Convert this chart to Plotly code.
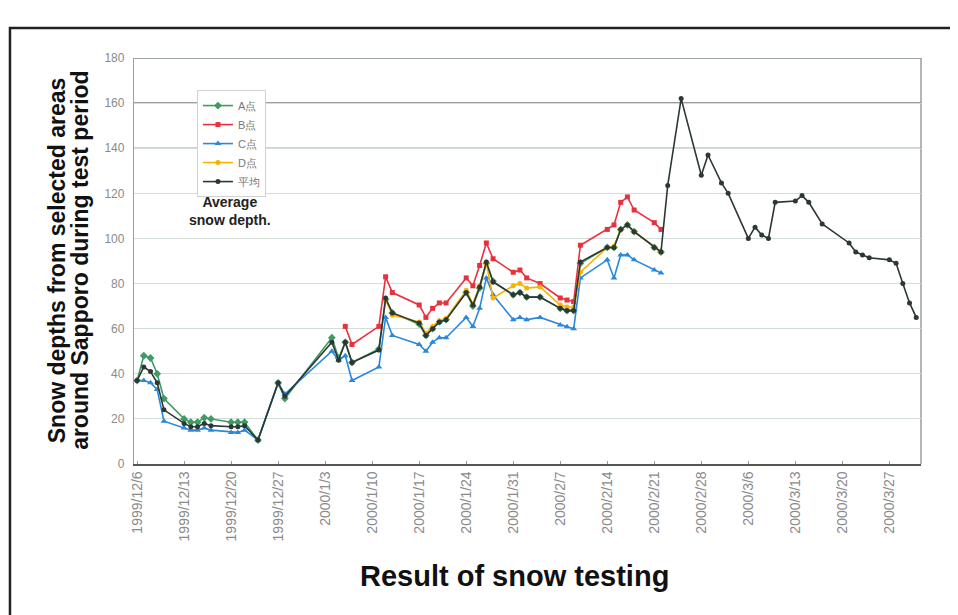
import plotly.graph_objects as go

# ---- data ----
dates_main = ["1999-12-06","1999-12-07","1999-12-08","1999-12-09","1999-12-10","1999-12-13",
              "1999-12-14","1999-12-15","1999-12-16","1999-12-17","1999-12-20","1999-12-21",
              "1999-12-22","1999-12-24","1999-12-27","1999-12-28","2000-01-04","2000-01-05",
              "2000-01-06","2000-01-07","2000-01-11","2000-01-12","2000-01-13","2000-01-17",
              "2000-01-18","2000-01-19","2000-01-20","2000-01-21","2000-01-24","2000-01-25",
              "2000-01-26","2000-01-27","2000-01-28","2000-01-31","2000-02-01","2000-02-02",
              "2000-02-04","2000-02-07","2000-02-08","2000-02-09","2000-02-10","2000-02-14",
              "2000-02-15","2000-02-16","2000-02-17","2000-02-18","2000-02-21","2000-02-22"]

point_a = [37, 48, 47, 40, 29, 20, 18.5, 18.5, 20.5, 20, 18.5, 18.5,
           18.5, 10.6, 36, 29, 56, 47, 54, 45, 51, 73, 67, 62,
           57, 60, 63, 64, 76, 70, 78, 89, 81, 75, 76, 74,
           74, 69, 68, 68, 89, 96, 96, 104, 106, 103, 96, 94]

point_b = [None, None, None, None, None, None, None, None, None, None, None, None,
           None, None, None, None, None, None, 61, 53, 61, 83, 76, 70.5,
           65, 69, 71.4, 71.4, 82.5, 79, 88, 98, 91, 85, 86, 82.5,
           80, 73.6, 72.7, 72, 97, 104, 106, 116, 118.4, 112.6, 107, 104]

point_c = [37, 37, 36, 33, 19, 16, 15, 15, 16, 15, 14, 14,
           15, 10.6, 36, 31, 50, 46, 48, 37, 43, 65, 57, 53,
           50, 54, 56, 56, 65, 61, 69, 82.5, 75, 64, 65, 64,
           65, 61.6, 60.8, 60, 82.5, 90.5, 82.5, 92.7, 92.7, 90.5, 86, 84.7]

point_d = [None, None, None, None, None, None, None, None, None, None, None, None,
           None, None, None, None, None, None, None, None, None, 73, 66, 63,
           58, 61, 63.5, 64.5, 77, 71, 79, 89, 73.6, 79, 80, 78,
           78.5, 70.5, 69.6, 69.5, 85, 96, 96.5, 104, 106, 103, 96, 94]

dates_late = ["2000-02-23","2000-02-25","2000-02-28","2000-02-29","2000-03-02","2000-03-03",
              "2000-03-06","2000-03-07","2000-03-08","2000-03-09","2000-03-10","2000-03-13",
              "2000-03-14","2000-03-15","2000-03-17","2000-03-21","2000-03-22","2000-03-23",
              "2000-03-24","2000-03-27","2000-03-28","2000-03-29","2000-03-30","2000-03-31"]

avg_main = [37, 43, 41, 36, 24, 18, 16.5, 16.5, 18, 17, 16.5, 16.5,
            17, 10.6, 36, 30, 54, 46, 54, 45, 50.5, 73.6, 67, 62.5,
            57, 60, 63, 64, 76, 70.5, 78.5, 89.6, 80.7, 75, 76, 74,
            74, 69, 68, 68, 89.6, 96, 96, 104, 106, 103, 96, 94]
avg_late = [123.5, 162, 128, 137, 124.6, 120, 100, 105, 101.5, 100, 116, 116.6,
            119, 116, 106.4, 98, 94, 92.7, 91.4, 90.5, 89, 80, 71.4, 65]

tick_dates = ["1999-12-06","1999-12-13","1999-12-20","1999-12-27","2000-01-03","2000-01-10",
              "2000-01-17","2000-01-24","2000-01-31","2000-02-07","2000-02-14","2000-02-21",
              "2000-02-28","2000-03-06","2000-03-13","2000-03-20","2000-03-27"]
tick_text = ["1999/12/6","1999/12/13","1999/12/20","1999/12/27","2000/1/3","2000/1/10",
             "2000/1/17","2000/1/24","2000/1/31","2000/2/7","2000/2/14","2000/2/21",
             "2000/2/28","2000/3/6","2000/3/13","2000/3/20","2000/3/27"]

series_names = ["A点", "B点", "C点", "D点", "平均"]

# ---- figure ----
fig = go.Figure()
styles = [
    ("#3f9a66", "diamond", 6),
    ("#e8313c", "square", 5),
    ("#2a88dc", "triangle-up", 6),
    ("#f6b400", "circle", 5),
]
for name, vals, (col, sym, sz) in zip(series_names[:4], [point_a, point_b, point_c, point_d], styles):
    fig.add_trace(go.Scatter(x=dates_main, y=vals, name=name, mode="lines+markers",
                             line=dict(color=col, width=1.6),
                             marker=dict(color=col, symbol=sym, size=sz)))

fig.add_trace(go.Scatter(x=dates_main + dates_late, y=avg_main + avg_late, name=series_names[4],
                         mode="lines+markers",
                         line=dict(color="#2d3833", width=1.6),
                         marker=dict(color="#2d3833", symbol="circle", size=5)))

shapes = [
    # outer frame
    dict(type="rect", xref="paper", yref="paper", x0=-0.1576, x1=1.2, y0=-0.6, y1=1.0739,
         line=dict(color="#222", width=2.5), fillcolor="rgba(0,0,0,0)", layer="below"),
    dict(type="line", xref="paper", yref="y", x0=0, x1=1, y0=160, y1=160,
         line=dict(color="#7a7f7c", width=1.6), layer="below"),
    dict(type="line", xref="paper", yref="y", x0=0, x1=1, y0=140, y1=140,
         line=dict(color="#9aa6a8", width=1.3), layer="below"),
    dict(type="line", xref="paper", yref="y", x0=0, x1=1, y0=180, y1=180,
         line=dict(color="#7e8c84", width=1.3), layer="below"),
    dict(type="line", xref="paper", yref="paper", x0=1, x1=1, y0=0, y1=1,
         line=dict(color="#8a8f8c", width=1.3), layer="below"),
]

annotations = [
    dict(text="<b>Snow depths from selected areas</b>", xref="paper", yref="paper",
         x=-0.0985, y=0.503, xanchor="center", yanchor="middle", textangle=-90, showarrow=False,
         font=dict(family="Liberation Sans, Arial", size=23, color="#111")),
    dict(text="<b>around Sapporo during test period</b>", xref="paper", yref="paper",
         x=-0.0685, y=0.503, xanchor="center", yanchor="middle", textangle=-90, showarrow=False,
         font=dict(family="Liberation Sans, Arial", size=23, color="#111")),
    dict(text="<b>Result of snow testing</b>", xref="paper", yref="paper",
         x=0.484, y=-0.276, xanchor="center", yanchor="middle", showarrow=False,
         font=dict(family="Liberation Sans, Arial", size=29, color="#111")),
    dict(text="<b>Average<br>snow depth.</b>", xref="paper", yref="paper",
         x=0.122, y=0.623, xanchor="center", yanchor="middle", showarrow=False, align="center",
         font=dict(family="Liberation Sans, Arial", size=14, color="#222")),
]

# page body adds an 8px offset, so margins are reduced on the left/top to compensate
fig.update_layout(
    width=958, height=615,
    margin=dict(l=126, r=45, t=50, b=159),
    paper_bgcolor="white", plot_bgcolor="white",
    shapes=shapes, annotations=annotations,
    font=dict(family="Liberation Sans, Arial", color="#777"),
    legend=dict(x=0.08, y=0.921, xanchor="left", yanchor="top",
                bgcolor="white", bordercolor="#cfd4d2", borderwidth=1,
                font=dict(size=11, color="#777"), tracegroupgap=0,
                itemwidth=30),
    xaxis=dict(type="date", range=["1999-12-05 13:00", "2000-03-31 17:00"],
               tickvals=tick_dates, ticktext=tick_text, tickangle=-90,
               tickfont=dict(size=14, color="#8a8a8a"),
               showgrid=False, showline=True, linecolor="#555", linewidth=1.5,
               ticks="inside", ticklen=3, tickcolor="#999", zeroline=False),
    yaxis=dict(range=[0, 180], dtick=20, tickfont=dict(size=12, color="#8a8a8a"),
               showgrid=True, gridcolor="#d3ded9", gridwidth=1,
               showline=True, linecolor="#9a9f9c", linewidth=1.3,
               ticks="outside", ticklen=6, tickcolor="white", zeroline=False),
)

fig.write_html("out.html")
